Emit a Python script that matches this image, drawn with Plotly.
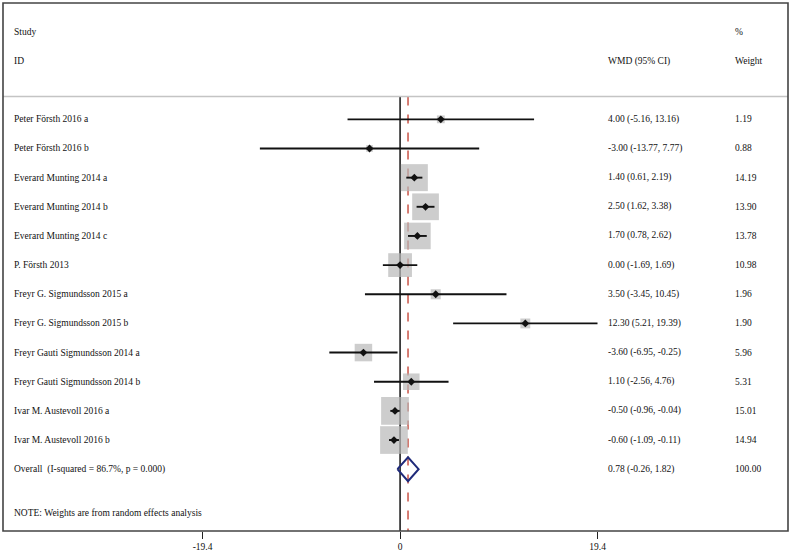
import plotly.graph_objects as go
import math

studies = ["Peter Försth 2016 a", "Peter Försth 2016 b", "Everard Munting 2014 a",
           "Everard Munting 2014 b", "Everard Munting 2014 c", "P. Försth 2013",
           "Freyr G. Sigmundsson 2015 a", "Freyr G. Sigmundsson 2015 b",
           "Freyr Gauti Sigmundsson 2014 a", "Freyr Gauti Sigmundsson 2014 b",
           "Ivar M. Austevoll 2016 a", "Ivar M. Austevoll 2016 b"]
wmd = [4.00, -3.00, 1.40, 2.50, 1.70, 0.00, 3.50, 12.30, -3.60, 1.10, -0.50, -0.60]
lower = [-5.16, -13.77, 0.61, 1.62, 0.78, -1.69, -3.45, 5.21, -6.95, -2.56, -0.96, -1.09]
upper = [13.16, 7.77, 2.19, 3.38, 2.62, 1.69, 10.45, 19.39, -0.25, 4.76, -0.04, -0.11]
weights = [1.19, 0.88, 14.19, 13.90, 13.78, 10.98, 1.96, 1.90, 5.96, 5.31, 15.01, 14.94]

overall_label = "Overall  (I-squared = 86.7%, p = 0.000)"
overall_est, overall_lo, overall_hi, overall_w = 0.78, -0.26, 1.82, 100.00
note = "NOTE: Weights are from random effects analysis"
tick_vals = [-19.4, 0, 19.4]
tick_text = ["-19.4", "0", "19.4"]

FONT = "Liberation Serif"
FS = 9.5
n = len(studies)
rows = list(range(n))
ov_row = n
y_top, y_bot = -3.99, 14.12
sep_y = -0.78

fig = go.Figure()

# weight boxes
sizes = [27 * math.sqrt(w / 14.19) for w in weights]
fig.add_trace(go.Scatter(x=wmd, y=rows, mode="markers",
                         marker=dict(symbol="square", size=sizes, color="#b8b8b8",
                                     line=dict(width=0)),
                         hoverinfo="skip", showlegend=False))
# CI lines
xs, ys = [], []
for lo, hi, r in zip(lower, upper, rows):
    xs += [lo, hi, None]
    ys += [r, r, None]
fig.add_trace(go.Scatter(x=xs, y=ys, mode="lines", line=dict(color="#111111", width=1.9),
                         hoverinfo="skip", showlegend=False))
# point estimates
fig.add_trace(go.Scatter(x=wmd, y=rows, mode="markers",
                         marker=dict(symbol="diamond", size=6, color="#111111"),
                         hoverinfo="skip", showlegend=False))
# overall diamond
hh = 0.41
fig.add_trace(go.Scatter(x=[overall_lo, overall_est, overall_hi, overall_est, overall_lo],
                         y=[ov_row, ov_row - hh, ov_row, ov_row + hh, ov_row],
                         mode="lines", line=dict(color="#1f2a7a", width=2),
                         hoverinfo="skip", showlegend=False))

# vertical reference lines
fig.add_shape(type="line", x0=0, x1=0, y0=sep_y, y1=y_bot, xref="x", yref="y",
              line=dict(color="#111111", width=1.5), layer="below")
fig.add_shape(type="line", x0=overall_est, x1=overall_est, y0=sep_y, y1=y_bot,
              xref="x", yref="y", line=dict(color="#c0392b", width=1.3, dash="dash"),
              layer="below")
# header separator
fig.add_shape(type="line", x0=0, x1=1, y0=sep_y, y1=sep_y, xref="paper", yref="y",
              line=dict(color="#c4c4c4", width=1.5))
# outer frame
fig.add_shape(type="rect", x0=0, x1=1, y0=0, y1=1, xref="paper", yref="paper",
              line=dict(color="#444444", width=1.6))

ann = []
def txt(x, y, s):
    ann.append(dict(x=x, y=y, xref="paper", yref="y", text=s, showarrow=False,
                    xanchor="left", yanchor="middle",
                    font=dict(family=FONT, size=FS, color="#111111")))

x_lab, x_ci, x_w = 0.0114, 0.7678, 0.930
txt(x_lab, -3, "Study")
txt(x_lab, -2, "ID")
txt(x_ci, -2, "WMD (95% CI)")
txt(x_w, -3, "%")
txt(x_w, -2, "Weight")
for s, e, lo, hi, w, r in zip(studies, wmd, lower, upper, weights, rows):
    txt(x_lab, r, s)
    txt(x_ci, r, f"{e:.2f} ({lo:.2f}, {hi:.2f})")
    txt(x_w, r, f"{w:.2f}")
txt(x_lab, ov_row, overall_label)
txt(x_ci, ov_row, f"{overall_est:.2f} ({overall_lo:.2f}, {overall_hi:.2f})")
txt(x_w, ov_row, f"{overall_w:.2f}")
txt(x_lab, 13.5, note)

fig.update_layout(
    width=800, height=555,
    margin=dict(l=3, r=12, t=3, b=18),
    paper_bgcolor="white", plot_bgcolor="white",
    annotations=ann,
    xaxis=dict(range=[-39.0, 38.1], tickvals=tick_vals, ticktext=tick_text,
               ticks="outside", ticklen=7, tickwidth=1.3, tickcolor="#222",
               showgrid=False, zeroline=False, showline=False,
               tickfont=dict(family=FONT, size=FS, color="#111111")),
    yaxis=dict(range=[y_bot, y_top], showticklabels=False, ticks="",
               showgrid=False, zeroline=False, showline=False),
)
fig.write_html("out.html", config={"displayModeBar": False},
               post_script="document.body.style.margin='0';document.body.style.overflow='hidden';")
